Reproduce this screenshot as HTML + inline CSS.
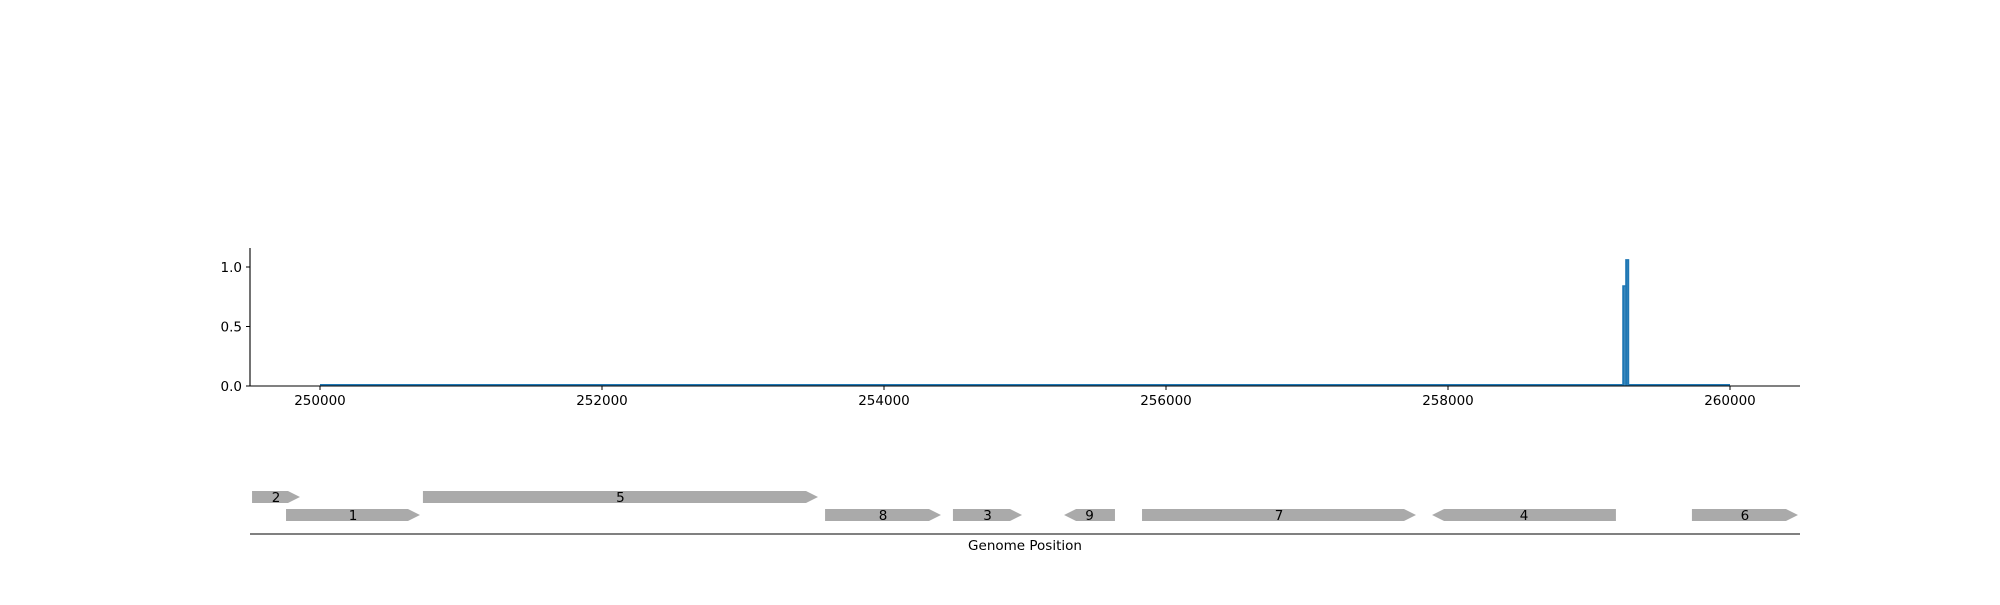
<!DOCTYPE html>
<html><head><meta charset="utf-8"><style>
body{margin:0;background:#fff}
svg text{font-family:"DejaVu Sans","Liberation Sans",sans-serif;font-size:13.5px;fill:#000}
</style></head><body>
<svg id="chart" width="2000" height="600" viewBox="0 0 2000 600" xmlns="http://www.w3.org/2000/svg">
<g id="plot"></g>
<g id="genes"></g>
</svg>
<script>
const xTicks = [250000, 252000, 254000, 256000, 258000, 260000];
const yTicks = [0.0, 0.5, 1.0];
const covPositions = [250000, 259230, 259241, 259250, 259262, 259270, 259280, 260000];
const covValues = [0.01, 0.01, 0.84, 0.84, 1.06, 1.06, 0.01, 0.01];
const geneNames = ["2","1","5","8","3","9","7","4","6"];
const geneStarts = [249518,249759,250730,253582,254489,255277,255830,257887,259730];
const geneEnds = [249858,250709,253532,254404,254979,255638,257773,259191,260482];
const geneStrands = [1,1,1,1,1,-1,1,-1,1];
const geneRows = [0,1,0,1,1,1,1,1,1];

const NS="http://www.w3.org/2000/svg";
const X0=250, X1=1800, YB=386, YT=248;
const xs = v => 320 + (v-250000)*0.141;
const ys = v => YB - v*119;
function mk(tag, attrs, parent){const e=document.createElementNS(NS,tag);for(const k in attrs)e.setAttribute(k,attrs[k]);parent.appendChild(e);return e;}
const plot=document.getElementById('plot'), genes=document.getElementById('genes');

for(let i=0;i<covPositions.length-1;i++){
  const x1=xs(covPositions[i]), x2=xs(covPositions[i+1]);
  const r=mk('rect',{x:x1,y:ys(covValues[i]),width:Math.max(x2-x1,0.5),height:YB-ys(covValues[i]),fill:'#1f77b4'},plot);
  
  
}
let d='';
covPositions.forEach((p,i)=>{
  if(i===0) d+='M'+xs(p)+','+ys(covValues[i]);
  else d+='L'+xs(p)+','+ys(covValues[i-1])+'L'+xs(p)+','+ys(covValues[i]);
});
const ln=mk('path',{d:d,fill:'none',stroke:'#1f77b4','stroke-width':1.5},plot);



const ya=mk('line',{x1:X0,y1:YT,x2:X0,y2:YB,stroke:'#000','stroke-width':1.1},plot);


const xa=mk('line',{x1:X0,y1:YB,x2:X1,y2:YB,stroke:'#000','stroke-width':1.1},plot);


yTicks.forEach(v=>{
  mk('line',{x1:X0-4,y1:ys(v),x2:X0,y2:ys(v),stroke:'#000'},plot);
  const t=mk('text',{x:X0-8,y:ys(v)+5,'text-anchor':'end'},plot);t.textContent=v.toFixed(1);
  
  
});
xTicks.forEach(v=>{
  mk('line',{x1:xs(v),y1:YB,x2:xs(v),y2:YB+4,stroke:'#000'},plot);
  const t=mk('text',{x:xs(v),y:YB+19,'text-anchor':'middle'},plot);t.textContent=v;
  
  
});

geneNames.forEach((n,i)=>{
  const a=xs(geneStarts[i]), b=xs(geneEnds[i]);
  const top=geneRows[i]===0?491:509, h=12, tip=12, m=top+h/2;
  let pts;
  if(geneStrands[i]>0) pts=`${a},${top} ${b-tip},${top} ${b},${m} ${b-tip},${top+h} ${a},${top+h}`;
  else pts=`${a+tip},${top} ${b},${top} ${b},${top+h} ${a+tip},${top+h} ${a},${m}`;
  const g=mk('polygon',{points:pts,fill:'#aaaaaa'},genes);
  
  
  const t=mk('text',{x:(a+b)/2,y:m+5,'text-anchor':'middle'},genes);t.textContent=n;
  
  
});
const ba=mk('line',{x1:X0,y1:534,x2:X1,y2:534,stroke:'#000','stroke-width':1.1},genes);


const xt=mk('text',{x:1025,y:550,'text-anchor':'middle'},genes);xt.textContent='Genome Position';


</script>
</body></html>
